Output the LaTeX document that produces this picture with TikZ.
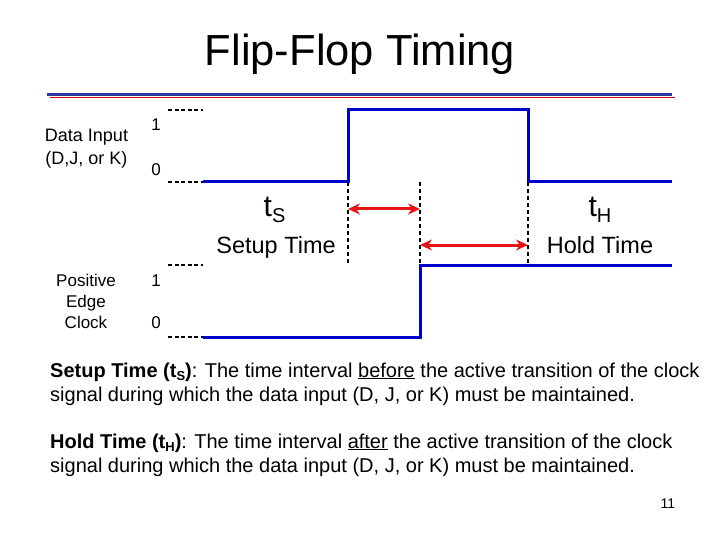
\documentclass[tikz,border=0pt]{standalone}
\usepackage{fontspec}
\setmainfont{Liberation Sans}
\usetikzlibrary{arrows.meta}
\definecolor{wave}{RGB}{0,0,204}
\definecolor{arr}{RGB}{230,20,20}
\definecolor{hdrblue}{RGB}{40,55,160}
\definecolor{hdrred}{RGB}{210,0,0}
\newcommand{\fs}[1]{\fontsize{#1}{#1}\selectfont}
\newcommand{\sbs}[1]{\raisebox{-3.5pt}{\fs{13}#1}}
\begin{document}
\begin{tikzpicture}[x=1pt,y=-1pt,
  wavel/.style={wave, line width=3pt, line join=miter},
  guide/.style={black, line width=1.3pt, dash pattern=on 4pt off 3pt},
  stub/.style={black, line width=1.3pt, dash pattern=on 4pt off 2.5pt},
  timearrow/.style={arr, line width=3pt, {Stealth[length=12pt,width=11pt]}-{Stealth[length=12pt,width=11pt]}},
  lbl/.style={inner sep=0pt, anchor=base, font=\fs{18}},
  lvl/.style={inner sep=0pt, anchor=base, font=\fs{17}},
  tsym/.style={inner sep=0pt, anchor=base, font=\fs{30}},
  tname/.style={inner sep=0pt, anchor=base, font=\fs{23.5}},
  body/.style={inner sep=0pt, anchor=base west, font=\fs{20}}
]
\useasboundingbox (0,0) rectangle (720,540);

% title
\node[inner sep=0pt, anchor=base, font=\fs{43.5}] (title) at (360,66) {Flip-Flop Timing};

% header rule
\coordinate (hr1) at (50,97.5); \coordinate (hr2) at (675,97.5);
\coordinate (hb1) at (47,95);   \coordinate (hb2) at (672,95);
\draw[hdrred, line width=1.8pt] (hr1) -- (hr2);
\draw[hdrblue, line width=3pt] (hb1) -- (hb2);

% data input labels
\node[lbl] (din1) at (86.5,141.5) {Data Input};
\node[lbl] (din2) at (86.5,164.5) {(D,J, or K)};
\node[lvl] (dhi) at (156,131) {1};
\node[lvl] (dlo) at (156,176) {0};

% clock labels
\node[lvl] (clk1) at (86,286) {Positive};
\node[lvl] (clk2) at (86,307) {Edge};
\node[lvl] (clk3) at (86,328) {Clock};
\node[lvl] (chi) at (156,286) {1};
\node[lvl] (clo) at (156,328) {0};

% data waveform
\coordinate (dh0) at (168,110); \coordinate (dh1) at (203,110);
\coordinate (dl0) at (168,182);
\coordinate (d0) at (203,182); \coordinate (d1) at (348,182);
\coordinate (d2) at (348,110); \coordinate (d3) at (528,110);
\coordinate (d4) at (528,182); \coordinate (d5) at (672,182);
\draw[stub] (dh0) -- (dh1);
\draw[stub] (dl0) -- (d0);
\draw[wavel] (d0) -- (d1) -- (d2) -- (d3) -- (d4) -- (d5);

% clock waveform
\coordinate (ch0) at (168,265); \coordinate (ch1) at (203,265);
\coordinate (cl0) at (168,337);
\coordinate (c0) at (203,337); \coordinate (c1) at (420,337);
\coordinate (c2) at (420,265); \coordinate (c3) at (672,265);
\draw[stub] (ch0) -- (ch1);
\draw[stub] (cl0) -- (c0);
\draw[wavel] (c0) -- (c1) -- (c2) -- (c3);

% guides
\coordinate (g1) at (348,263);
\coordinate (g2t) at (420,182);
\coordinate (g3) at (528,265);
\draw[guide] (d1) -- (g1);
\draw[guide] (g2t) -- (c2);
\draw[guide] (d4) -- (g3);

% arrows
\coordinate (a1) at (348,209); \coordinate (a2) at (420,209);
\coordinate (b1) at (420,245); \coordinate (b2) at (528,245);
\draw[timearrow] (a1) -- (a2);
\draw[timearrow] (b1) -- (b2);

% timing labels
\node[tsym] (ts) at (274.5,216) {t\raisebox{-6pt}{\fs{20}S}};
\node[tname] (tsn) at (276,253) {Setup Time};
\node[tsym] (th) at (600,216) {t\raisebox{-6pt}{\fs{20}H}};
\node[tname] (thn) at (600,253) {Hold Time};

% definitions
\node[body] (sd1) at (50,377) {\textbf{Setup Time (t\sbs{S})}: The time interval \underline{before} the active transition of the clock};
\node[body] (sd2) at (50,401) {signal during which the data input (D, J, or K) must be maintained.};
\node[body] (hd1) at (50,448) {\textbf{Hold Time (t\sbs{H})}: The time interval \underline{after} the active transition of the clock};
\node[body] (hd2) at (50,472) {signal during which the data input (D, J, or K) must be maintained.};

% page number
\node[inner sep=0pt, anchor=base, font=\fs{14}] (pg) at (668,508) {11};
\end{tikzpicture}
\end{document}
